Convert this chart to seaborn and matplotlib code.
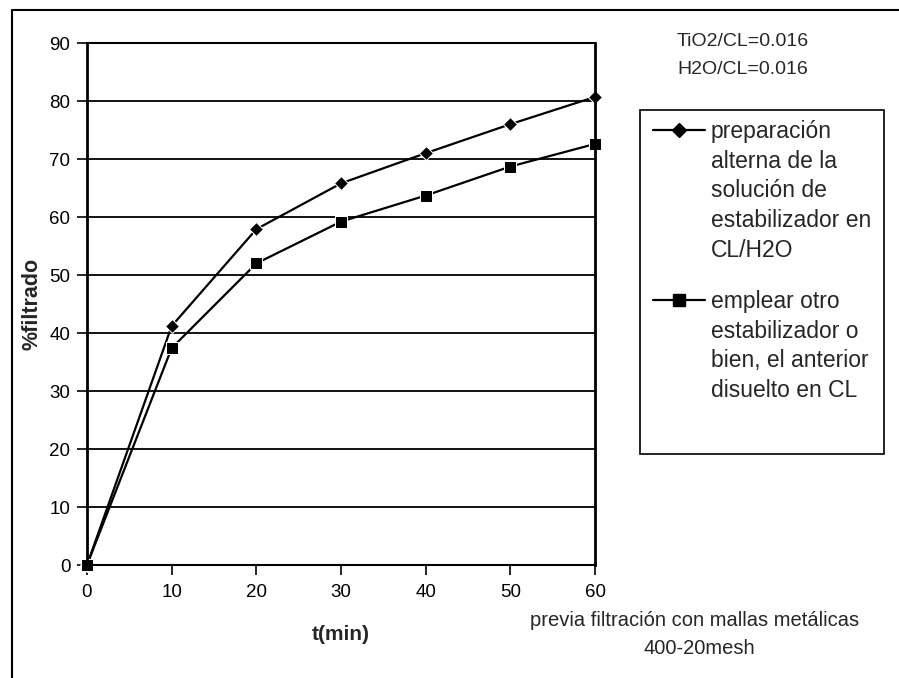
import matplotlib
matplotlib.use("Agg")
import matplotlib.pyplot as plt
from matplotlib.lines import Line2D
from matplotlib.patches import Rectangle
import seaborn as sns
import pandas as pd

t_min = [0, 10, 20, 30, 40, 50, 60]
serie_a = [0, 41.2, 57.9, 65.8, 71.0, 76.0, 80.7]
serie_b = [0, 37.4, 52.0, 59.2, 63.7, 68.7, 72.6]
label_a = "preparación\nalterna de la\nsolución de\nestabilizador en\nCL/H2O"
label_b = "emplear otro\nestabilizador o\nbien, el anterior\ndisuelto en CL"
y_ticks = [0, 10, 20, 30, 40, 50, 60, 70, 80, 90]
x_ticks = [0, 10, 20, 30, 40, 50, 60]

sns.set_theme(style="white")
plt.rcParams['font.family'] = ['Liberation Sans', 'DejaVu Sans']

df = pd.DataFrame({
    "t": t_min * 2,
    "v": serie_a + serie_b,
    "s": ["a"] * len(t_min) + ["b"] * len(t_min),
})

fig = plt.figure(figsize=(8.99, 6.78), dpi=100)
W, H = 899, 678
ax = fig.add_axes([87 / W, 1 - 565 / H, (595 - 87) / W, (565 - 43) / H])

sns.lineplot(data=df, x="t", y="v", hue="s", style="s",
             markers={"a": "D", "b": "s"}, dashes=False,
             palette={"a": "black", "b": "black"},
             markersize=8, linewidth=1.6, legend=False, ax=ax)
for ln in ax.lines:
    ln.set_clip_on(False)
ax.lines[0].set_markersize(7)
ax.lines[1].set_markersize(8.5)

ax.set_xlim(0, 60)
ax.set_ylim(0, 90)
ax.set_yticks(y_ticks)
ax.set_xticks(x_ticks)
ax.yaxis.grid(True, color="black", linewidth=1.3)
ax.xaxis.grid(False)
ax.set_axisbelow(True)
for sp in ax.spines.values():
    sp.set_color("black")
    sp.set_linewidth(1.5)
ax.spines["left"].set_linewidth(2)
ax.spines["right"].set_linewidth(2)
ax.tick_params(axis="both", which="both", direction="out", length=7, width=1.2,
               colors="black", labelsize=13.5, left=True, bottom=True)
ax.tick_params(axis="y", pad=5)
ax.tick_params(axis="x", pad=7)
ax.set_xlabel("t(min)", fontsize=15, fontweight="bold", labelpad=17)
ax.set_ylabel("%filtrado", fontsize=15.5, fontweight="bold", labelpad=5)

# notes
fig.text(743 / W, 1 - 41 / H, "TiO2/CL=0.016", ha="center", va="center", fontsize=14)
fig.text(743 / W, 1 - 70 / H, "H2O/CL=0.016", ha="center", va="center", fontsize=14)
fig.text(695 / W, 1 - 620 / H, "previa filtración con mallas metálicas", ha="center",
         va="center", fontsize=14.5)
fig.text(699 / W, 1 - 649 / H, "400-20mesh", ha="center", va="center", fontsize=14.5)

# legend box
fig.add_artist(Rectangle((640 / W, 1 - 454 / H), (884 - 640) / W, (454 - 110) / H,
                         transform=fig.transFigure, fill=False, edgecolor="black",
                         linewidth=1.2))
for yy, mk, ms, lab in [(130, "D", 7, label_a), (300, "s", 8.5, label_b)]:
    fig.add_artist(Line2D([653 / W, 705 / W], [1 - yy / H, 1 - yy / H],
                          transform=fig.transFigure, color="black", linewidth=1.6))
    fig.add_artist(Line2D([679 / W], [1 - yy / H], transform=fig.transFigure,
                          color="black", marker=mk, markersize=ms))
    fig.text(711 / W, 1 - (yy - 10) / H, lab, ha="left", va="top", fontsize=16.5,
             linespacing=1.37)

# outer border
fig.add_artist(Line2D([12 / W, 1.0], [1 - 10 / H, 1 - 10 / H], transform=fig.transFigure,
                      color="black", linewidth=1.5))
fig.add_artist(Line2D([12 / W, 12 / W], [1 - 10 / H, 0], transform=fig.transFigure,
                      color="black", linewidth=1.5))

fig.savefig("out.png", dpi=100)
